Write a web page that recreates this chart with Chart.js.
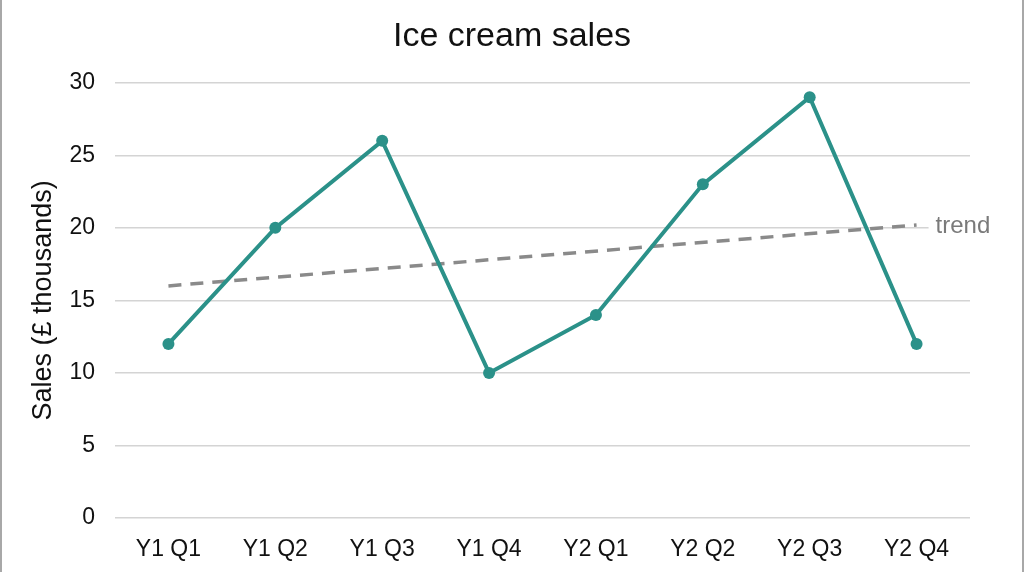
<!DOCTYPE html>
<html>
<head>
<meta charset="utf-8">
<script src="https://cdn.jsdelivr.net/npm/chart.js@4"></script>
<style>
  html, body { margin: 0; padding: 0; background: #fff; }
  .wrap { position: relative; width: 1024px; height: 572px; box-sizing: border-box;
    border-left: 2px solid #a8a8a8; border-right: 2px solid #a8a8a8; }
  .wrap canvas { position: absolute; left: -2px; top: 0; }
</style>
</head>
<body>
<div class="wrap"><canvas id="c" width="1024" height="572"></canvas></div>
<script>
// Ice cream sales, quarterly, with a straight trend line
const quarters = ['Y1 Q1', 'Y1 Q2', 'Y1 Q3', 'Y1 Q4', 'Y2 Q1', 'Y2 Q2', 'Y2 Q3', 'Y2 Q4'];
const sales = [12, 20, 26, 10, 14, 23, 29, 12];
// trend: start and end only, joined across the gaps
const trend = [16, null, null, null, null, null, null, 20.2];
const yTicks = [0, 5, 10, 15, 20, 25, 30];

const FONT = '"Liberation Sans", Arial, sans-serif';
const TEAL = '#2b9189';
const GREY = '#8a8a8a';

// label "trend" at the last point of the trend dataset, on a white box
const trendLabel = {
    id: 'trendLabel',
    afterDatasetsDraw: function (chart) {
        const meta = chart.getDatasetMeta(1);
        const pt = meta.data[meta.data.length - 1];
        const ctx = chart.ctx;
        ctx.save();
        ctx.font = '24px ' + FONT;
        ctx.textBaseline = 'middle';
        ctx.textAlign = 'left';
        const w = ctx.measureText('trend').width;
        ctx.fillStyle = '#fff';
        ctx.fillRect(pt.x + 12, pt.y - 13, w + 10, 26);
        ctx.fillStyle = '#7a7a7a';
        ctx.fillText('trend', pt.x + 19, pt.y + 1);
        ctx.restore();
    }
};

new Chart(document.getElementById('c'), {
    type: 'line',
    data: {
        labels: quarters,
        datasets: [
            { label: 'Sales', data: sales, borderColor: TEAL, backgroundColor: TEAL,
              borderWidth: 4, pointRadius: 6, pointBorderWidth: 0, tension: 0 },
            { label: 'trend', data: trend, spanGaps: true, borderColor: GREY,
              borderWidth: 3.5, borderDash: [13, 9], pointRadius: 0, tension: 0 }
        ]
    },
    options: {
        responsive: false,
        animation: false,
        layout: { padding: 0 },
        plugins: {
            legend: { display: false },
            tooltip: { enabled: false },
            title: { display: true, text: 'Ice cream sales', color: '#111',
                     font: { family: FONT, size: 34, weight: 'normal' },
                     padding: { top: 16, bottom: 26 } }
        },
        scales: {
            x: {
                offset: true,
                grid: { display: false, drawTicks: false },
                border: { display: false },
                ticks: { color: '#111', padding: 18, font: { family: FONT, size: 23 } },
                afterFit: function (s) { s.height = 54; }
            },
            y: {
                min: 0, max: 30,
                afterBuildTicks: function (s) { s.ticks = yTicks.map(function (v) { return { value: v }; }); },
                grid: { color: '#d4d4d4', lineWidth: 1.5, drawTicks: false },
                border: { display: false },
                ticks: { color: '#111', padding: 20, font: { family: FONT, size: 23 } },
                title: { display: true, text: 'Sales (£ thousands)', color: '#111',
                         font: { family: FONT, size: 27 }, padding: { top: 27, bottom: 6 } },
                afterFit: function (s) { s.width = 115; }
            },
            // empty right-hand axis: only reserves the blank margin
            yRight: {
                position: 'right',
                min: 0, max: 30,
                grid: { display: false, drawTicks: false },
                border: { display: false },
                ticks: { display: false },
                afterFit: function (s) { s.width = 54; }
            }
        }
    },
    plugins: [trendLabel]
});
</script>
</body>
</html>
